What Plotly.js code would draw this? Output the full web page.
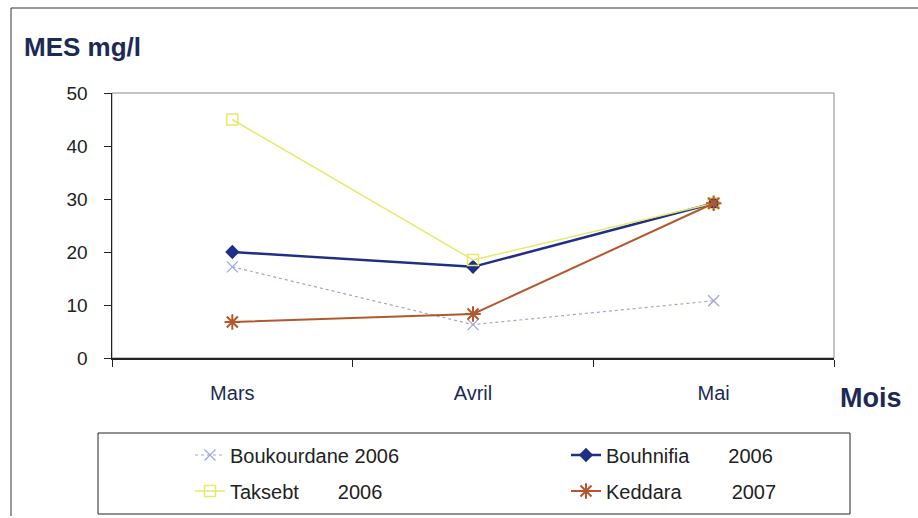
<!DOCTYPE html>
<html>
<head>
<meta charset="utf-8">
<script src="https://cdn.plot.ly/plotly-3.0.1.min.js"></script>
<style>html,body{margin:0;padding:0;background:#fff;}#chart{width:918px;height:518px;}</style>
</head>
<body>
<div id="chart"></div>
<script>
var months = ['Mars', 'Avril', 'Mai'];
var boukourdane = [17.2, 6.3, 10.8];
var bouhnifia = [20, 17.2, 29.2];
var taksebt = [45, 18.5, 29.2];
var keddara = [6.8, 8.3, 29.2];
var seriesNames = ['Boukourdane 2006',
  'Bouhnifia\u00a0\u00a0\u00a0\u00a0\u00a0\u00a0\u00a02006',
  'Taksebt\u00a0\u00a0\u00a0\u00a0\u00a0\u00a0\u00a02006',
  'Keddara\u00a0\u00a0\u00a0\u00a0\u00a0\u00a0\u00a0\u00a0\u00a02007'];
var yTicks = [0, 10, 20, 30, 40, 50];

var W = 918, H = 518, L = 112, R = 84, T = 93, B = 160;
var pw = W - L - R, ph = H - T - B;
function px(x) { return (x - L) / pw; }
function py(y) { return (H - B - y) / ph; }

var traces = [
  {x: months, y: boukourdane, name: seriesNames[0], type: 'scatter', mode: 'lines+markers', legend: 'legend',
   line: {color: '#9fa8d6', width: 1.2, dash: 'dot'},
   marker: {symbol: 'x-thin-open', size: 11, color: '#9fa8d6', line: {color: '#9fa8d6', width: 1.3}}},
  {x: months, y: bouhnifia, name: seriesNames[1], type: 'scatter', mode: 'lines+markers', legend: 'legend2',
   line: {color: '#1f2e86', width: 2.5},
   marker: {symbol: 'diamond', size: 11, color: '#1f2e86'}},
  {x: months, y: taksebt, name: seriesNames[2], type: 'scatter', mode: 'lines+markers', legend: 'legend3',
   line: {color: '#e6ea6a', width: 1.5},
   marker: {symbol: 'square-open', size: 11, color: '#e6ea6a', line: {color: '#e6ea6a', width: 1.5}}},
  {x: months, y: keddara, name: seriesNames[3], type: 'scatter', mode: 'lines+markers', legend: 'legend4',
   line: {color: '#b3582e', width: 2},
   marker: {symbol: 'asterisk-open', size: 13, color: '#b3582e', line: {color: '#b3582e', width: 2}}}
];

var legendFont = {family: 'Arial, Liberation Sans, sans-serif', size: 20, color: '#222'};
function leg(xpix, ypix) {
  return {x: px(xpix), xanchor: 'left', y: py(ypix), yanchor: 'middle', font: legendFont, bgcolor: 'rgba(0,0,0,0)'};
}
var layout = {
  width: W, height: H,
  margin: {l: L, r: R, t: T, b: B, autoexpand: false},
  paper_bgcolor: '#ffffff', plot_bgcolor: '#ffffff',
  font: {family: 'Arial, Liberation Sans, sans-serif', color: '#222'},
  title: {text: '<b>MES mg/l</b>', font: {size: 26, color: '#1c2a55', family: 'Arial, Liberation Sans, sans-serif'},
          xref: 'container', yref: 'container', x: 24 / W, xanchor: 'left', y: 1 - 47 / H, yanchor: 'middle'},
  xaxis: {type: 'category', range: [-0.5, 2.5], tickson: 'boundaries', ticks: 'outside', ticklen: 7, tickcolor: '#222',
          showline: true, linecolor: '#222', linewidth: 1.5, showgrid: false, zeroline: false,
          tickfont: {size: 20, color: '#1c2a55'}, ticklabelstandoff: 16, fixedrange: true},
  yaxis: {range: [0, 50], tickvals: yTicks, ticks: 'outside', ticklen: 7, tickcolor: '#222',
          showline: true, linecolor: '#222', linewidth: 1.5, showgrid: false, zeroline: false,
          tickfont: {size: 19, color: '#222'}, ticklabelstandoff: 12, fixedrange: true},
  showlegend: true,
  legend: leg(190, 455),
  legend2: leg(566, 455),
  legend3: leg(190, 491),
  legend4: leg(566, 491),
  shapes: [
    {type: 'rect', xref: 'paper', yref: 'paper', x0: 0, x1: 1, y0: 0, y1: 1, line: {color: '#8a8a8a', width: 1}, layer: 'below'},
    {type: 'rect', xref: 'paper', yref: 'paper', x0: px(98), x1: px(850), y0: py(514), y1: py(433), line: {color: '#222', width: 1}},
    {type: 'line', xref: 'paper', yref: 'paper', x0: px(11), x1: px(11), y0: py(516), y1: py(8), line: {color: '#333', width: 1}},
    {type: 'line', xref: 'paper', yref: 'paper', x0: px(11), x1: px(918), y0: py(8), y1: py(8), line: {color: '#333', width: 1}}
  ],
  annotations: [
    {text: '<b>Mois</b>', xref: 'paper', yref: 'paper', x: px(871), y: py(398), xanchor: 'center', yanchor: 'middle',
     showarrow: false, font: {size: 27, color: '#1c2a55', family: 'Arial, Liberation Sans, sans-serif'}}
  ]
};
Plotly.newPlot('chart', traces, layout, {displayModeBar: false, staticPlot: true});
</script>
</body>
</html>
